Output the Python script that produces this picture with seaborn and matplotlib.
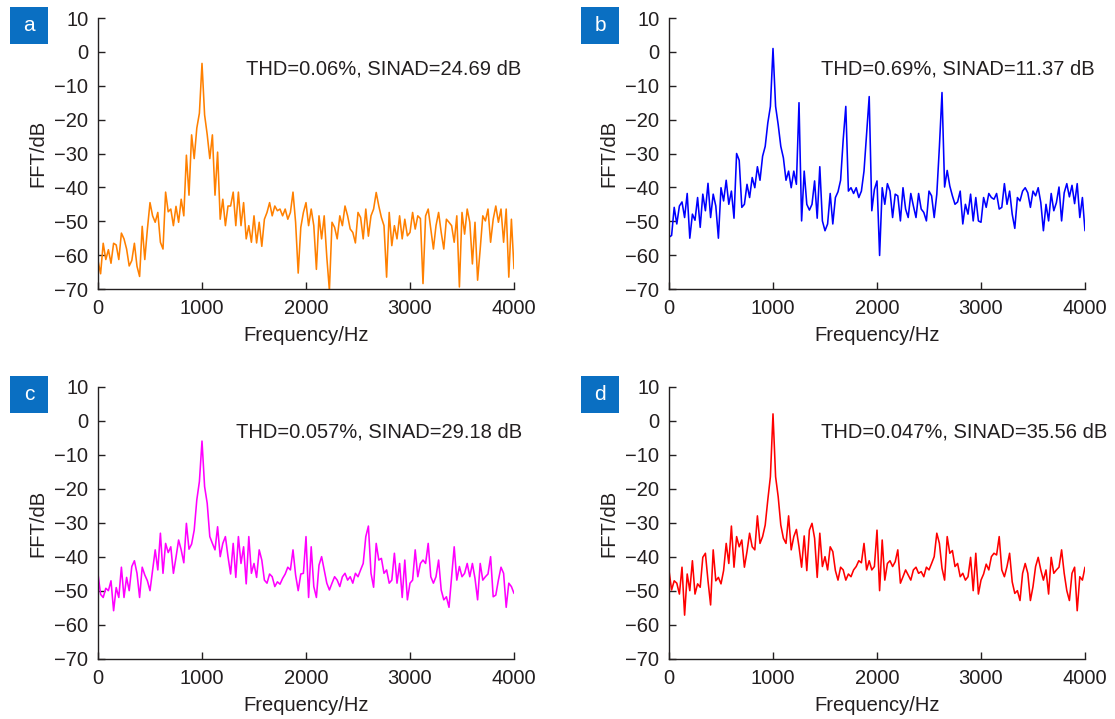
"""Four FFT spectra (a-d) with THD / SINAD annotations."""

import numpy as np
import pandas as pd
import seaborn as sns
import matplotlib.pyplot as plt
from matplotlib.patches import Rectangle

# spectra, one point every 25 Hz from 0 to 4000 Hz
fft_a = [
    -61.6, -65.5, -56.5, -61.3, -58.4, -62.4, -56.5, -57.0, -61.3, -53.5,
    -55.2, -58.2, -63.2, -61.6, -56.5, -63.3, -66.3, -51.5, -61.3, -52.3,
    -44.5, -48.4, -50.3, -47.4, -56.2, -58.2, -41.4, -47.2, -46.4, -51.3,
    -45.6, -50.3, -43.5, -48.4, -30.5, -42.3, -24.5, -31.5, -22.5, -18.1,
    -3.4, -18.6, -24.4, -31.5, -24.5, -42.3, -29.6, -49.4, -43.5, -51.3,
    -45.5, -45.5, -41.4, -51.3, -41.4, -51.3, -44.5, -55.2, -51.3, -56.2,
    -48.4, -56.4, -50.3, -57.4, -49.4, -47.4, -44.5, -48.4, -45.5, -46.9,
    -46.4, -48.4, -46.4, -49.4, -47.4, -41.4, -50.3, -65.3, -51.8, -47.4,
    -44.5, -51.3, -46.4, -51.3, -64.2, -48.4, -55.2, -48.4, -60.6, -70.4,
    -50.3, -51.8, -55.2, -48.4, -51.3, -45.5, -48.4, -52.3, -53.3, -56.4,
    -47.4, -48.9, -55.2, -46.4, -54.4, -48.4, -46.4, -41.5, -45.5, -48.9,
    -51.3, -66.5, -47.4, -57.2, -51.3, -55.2, -48.4, -55.2, -49.4, -54.3,
    -53.3, -47.4, -52.3, -48.4, -49.2, -68.4, -48.4, -46.4, -52.3, -58.2,
    -51.3, -47.4, -53.3, -58.2, -49.4, -50.3, -51.3, -56.2, -48.4, -69.4,
    -47.4, -53.8, -46.4, -50.3, -62.6, -50.3, -67.4, -58.2, -48.4, -49.9,
    -46.4, -56.2, -49.4, -45.5, -50.3, -46.4, -56.2, -46.4, -66.5, -49.4,
    -64.0,
]
fft_b = [
    -54.7, -54.2, -45.9, -50.8, -45.5, -44.3, -48.9, -41.8, -55.0, -47.9,
    -49.7, -43.0, -51.8, -42.0, -46.9, -38.8, -48.9, -42.0, -45.5, -55.0,
    -40.1, -44.0, -37.9, -45.0, -41.1, -49.1, -30.0, -32.0, -45.9, -45.0,
    -39.1, -43.0, -37.1, -40.1, -33.9, -37.9, -30.8, -27.9, -21.0, -16.1,
    1.0, -16.1, -21.5, -27.9, -31.3, -37.9, -35.2, -40.1, -35.2, -39.1,
    -15.0, -49.9, -35.2, -45.0, -46.7, -45.0, -38.1, -49.1, -33.9, -49.9,
    -52.8, -50.8, -41.8, -50.8, -43.0, -41.3, -37.9, -25.9, -16.1, -41.1,
    -40.1, -41.8, -40.1, -43.0, -41.1, -35.2, -24.4, -13.2, -46.9, -40.6,
    -38.1, -60.1, -40.1, -45.0, -38.9, -41.1, -48.9, -42.0, -42.5, -49.9,
    -40.1, -46.4, -48.9, -41.8, -45.5, -48.9, -41.8, -46.4, -47.4, -49.9,
    -41.1, -42.5, -48.9, -42.0, -28.0, -12.0, -39.9, -35.0, -39.6, -42.5,
    -45.0, -44.3, -41.1, -50.8, -45.0, -47.9, -42.0, -49.9, -43.0, -49.9,
    -50.3, -43.0, -45.9, -41.8, -43.0, -43.5, -41.8, -46.4, -45.9, -38.9,
    -45.0, -41.1, -47.9, -52.1, -43.0, -44.0, -41.1, -40.1, -41.6, -45.9,
    -41.1, -42.5, -40.1, -44.5, -52.8, -45.0, -49.9, -41.8, -46.9, -44.5,
    -39.9, -49.9, -41.6, -38.9, -42.8, -39.4, -44.8, -38.9, -48.9, -43.0,
    -52.8,
]
fft_c = [
    -45.0, -51.0, -51.9, -49.2, -49.9, -47.0, -55.8, -49.0, -51.9, -43.0,
    -51.9, -46.0, -49.9, -42.8, -41.1, -44.8, -51.9, -43.0, -45.3, -47.0,
    -49.9, -43.8, -37.9, -43.8, -33.0, -44.8, -36.0, -38.7, -37.0, -44.8,
    -40.1, -35.0, -37.9, -41.7, -30.1, -37.7, -36.2, -32.1, -23.2, -17.8,
    -5.9, -19.3, -24.2, -34.0, -36.0, -37.9, -31.1, -39.9, -36.0, -34.0,
    -39.9, -45.0, -36.0, -46.0, -34.0, -41.9, -37.0, -47.9, -34.0, -44.8,
    -41.9, -46.0, -37.9, -40.9, -46.8, -47.7, -45.0, -45.8, -48.7, -47.3,
    -48.0, -46.3, -45.0, -43.0, -43.8, -37.9, -45.3, -49.9, -45.0, -44.8,
    -34.0, -51.9, -37.0, -48.7, -51.9, -42.4, -39.9, -43.8, -47.7, -49.7,
    -47.7, -45.8, -46.8, -48.7, -45.8, -44.8, -46.8, -45.8, -47.7, -44.8,
    -45.8, -43.8, -41.9, -34.0, -30.9, -44.8, -48.9, -36.0, -40.9, -40.4,
    -44.8, -43.8, -47.7, -46.8, -38.9, -47.7, -41.9, -51.9, -40.9, -52.6,
    -47.7, -46.8, -37.9, -45.8, -41.9, -40.9, -41.9, -36.0, -45.8, -47.7,
    -45.8, -40.9, -49.7, -52.6, -51.7, -54.8, -45.8, -37.0, -46.8, -42.8,
    -45.8, -44.8, -41.9, -45.8, -41.9, -46.3, -52.6, -41.9, -46.8, -45.8,
    -45.0, -39.9, -51.7, -51.2, -46.8, -43.0, -44.8, -54.8, -47.7, -48.7,
    -50.7,
]
fft_d = [
    -44.0, -49.7, -47.0, -47.7, -50.9, -43.0, -57.1, -45.0, -49.9, -41.1,
    -50.9, -47.9, -48.9, -40.1, -38.9, -47.0, -54.1, -37.9, -47.0, -46.0,
    -47.9, -44.0, -36.0, -41.9, -30.9, -43.0, -34.0, -37.0, -35.0, -43.0,
    -38.4, -33.0, -37.0, -37.9, -27.9, -36.0, -34.0, -30.6, -23.2, -16.4,
    2.1, -16.4, -22.3, -30.6, -34.5, -36.0, -27.9, -37.9, -34.0, -31.9,
    -37.0, -43.0, -33.8, -44.0, -32.1, -30.1, -34.5, -46.0, -33.0, -42.8,
    -39.9, -43.8, -37.0, -38.4, -44.0, -46.8, -43.0, -43.8, -46.8, -45.0,
    -45.8, -43.8, -42.8, -41.1, -41.7, -36.0, -43.8, -41.1, -43.8, -42.8,
    -32.1, -49.9, -35.0, -46.8, -41.9, -41.1, -42.8, -41.4, -37.9, -47.7,
    -45.8, -43.8, -45.3, -46.8, -43.8, -43.0, -44.8, -44.3, -45.8, -43.0,
    -43.8, -41.9, -39.9, -33.0, -36.0, -43.3, -46.8, -34.0, -38.9, -38.1,
    -42.8, -41.9, -45.8, -44.8, -46.8, -45.8, -40.1, -49.9, -38.9, -50.9,
    -46.8, -45.0, -42.1, -43.8, -39.9, -38.9, -39.4, -34.0, -43.8, -45.8,
    -42.8, -38.9, -47.3, -50.7, -49.9, -52.8, -44.8, -41.9, -44.8, -52.8,
    -48.7, -42.8, -40.1, -43.8, -46.8, -43.8, -50.9, -40.1, -44.8, -43.8,
    -43.0, -37.9, -44.8, -49.9, -52.8, -44.8, -43.0, -55.8, -45.8, -46.8,
    -43.0,
]

panel_letters = ["a", "b", "c", "d"]
panel_notes = [
    "THD=0.06%, SINAD=24.69 dB",
    "THD=0.69%, SINAD=11.37 dB",
    "THD=0.057%, SINAD=29.18 dB",
    "THD=0.047%, SINAD=35.56 dB",
]
note_x = [1425, 1462, 1330, 1462]
note_y = [-5.0, -5.0, -3.3, -3.3]
line_colors = ["#ff8000", "#0000ff", "#ff00ff", "#ff0000"]

sns.set_theme(style="ticks")
plt.rcParams["font.family"] = ["Liberation Sans", "DejaVu Sans"]
TXT = "#231f20"
FS = 14.5

W, H = 1115, 719
fig = plt.figure(figsize=(W / 100, H / 100), dpi=100)

# axes boxes in pixels: left, top, right, bottom
boxes = [(98, 18, 514, 289), (669, 18, 1085, 289),
         (98, 387, 514, 659), (669, 387, 1085, 659)]

for spec, letter, note, nx, ny, col, (l, t, r, b) in zip(
        [fft_a, fft_b, fft_c, fft_d], panel_letters, panel_notes,
        note_x, note_y, line_colors, boxes):
    ax = fig.add_axes([l / W, 1 - b / H, (r - l) / W, (b - t) / H])
    df = pd.DataFrame({"freq": np.linspace(0, 4000, len(spec)), "fft": spec})
    sns.lineplot(data=df, x="freq", y="fft", ax=ax, color=col, linewidth=1.15)
    ax.set_xlim(0, 4000)
    ax.set_ylim(-70, 10)
    ax.set_xticks([0, 1000, 2000, 3000, 4000])
    ax.set_yticks(range(-70, 11, 10))
    ax.tick_params(direction="in", length=5, width=1, labelsize=FS,
                   colors=TXT, pad=7)
    for s in ("left", "bottom"):
        ax.spines[s].set_color(TXT)
        ax.spines[s].set_linewidth(1.0)
    sns.despine(ax=ax)
    ax.set_xlabel("Frequency/Hz", fontsize=FS, color=TXT, labelpad=6)
    ax.set_ylabel("FFT/dB", fontsize=FS, color=TXT, labelpad=5)
    ax.text(nx, ny, note, fontsize=FS, color=TXT, ha="left", va="center")

    # blue panel tag
    bx, by = l - 88, t - 11
    fig.patches.append(Rectangle((bx / W, 1 - (by + 37) / H), 38 / W, 37 / H,
                                 transform=fig.transFigure,
                                 facecolor="#0a6fc2", edgecolor="none"))
    fig.text((bx + 19) / W, 1 - (by + 18.5) / H, letter, color="white",
             fontsize=15, ha="center", va="center")

fig.savefig("out.png", dpi=100)
